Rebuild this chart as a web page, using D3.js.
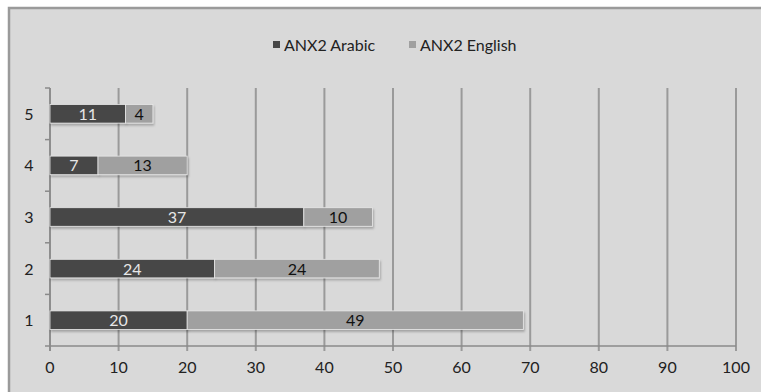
<!DOCTYPE html>
<html>
<head>
<meta charset="utf-8">
<script src="https://cdn.jsdelivr.net/npm/d3@7"></script>
<style>
  html, body { margin: 0; padding: 0; background: #fff; }
  svg { display: block; }
  text { font-family: Lato, "Open Sans", sans-serif; }
</style>
</head>
<body>
<svg id="chart" width="761" height="392"></svg>
<script>
// Stacked horizontal bars: two series per category
const categories = ["1", "2", "3", "4", "5"];
const arabic = [20, 24, 37, 7, 11];
const english = [49, 24, 10, 13, 4];
const seriesNames = ["ANX2 Arabic", "ANX2 English"];
const seriesColors = ["#474747", "#a0a0a0"];
const labelColors = ["#e6e6e6", "#111"];
const xTicks = [0, 10, 20, 30, 40, 50, 60, 70, 80, 90, 100];

const svg = d3.select("#chart");
const W = 761, H = 392;

// Chart frame
svg.append("rect").attr("x", 9).attr("y", 8).attr("width", W + 10).attr("height", H + 10)
  .attr("fill", "#d9d9d9").attr("stroke", "#9a9a9a").attr("stroke-width", 2.5);

const defs = svg.append("defs");
const f = defs.append("filter").attr("id", "shadow").attr("x", "-5%").attr("y", "-30%")
  .attr("width", "115%").attr("height", "180%");
f.append("feDropShadow").attr("dx", 1).attr("dy", 2).attr("stdDeviation", 1.2)
  .attr("flood-color", "#000").attr("flood-opacity", 0.25);

const x = d3.scaleLinear().domain([0, 100]).range([50, 736]);
const y = d3.scaleBand().domain(categories.slice().reverse()).range([88, 346])
  .paddingInner(0.64).paddingOuter(0.32);

const plotTop = 88, plotBottom = 346;

// Vertical gridlines (with tick marks below the axis)
svg.append("g").selectAll("line").data(xTicks).join("line")
  .attr("x1", d => x(d)).attr("x2", d => x(d))
  .attr("y1", plotTop).attr("y2", plotBottom + 5)
  .attr("stroke", "#9a9a9a").attr("stroke-width", 2);

// Axis lines
svg.append("line").attr("x1", 45).attr("x2", x(100)).attr("y1", plotBottom).attr("y2", plotBottom)
  .attr("stroke", "#8a8a8a").attr("stroke-width", 1.5);
svg.append("line").attr("x1", x(0)).attr("x2", x(0)).attr("y1", plotTop).attr("y2", plotBottom + 5)
  .attr("stroke", "#8a8a8a").attr("stroke-width", 1.5);

// Category boundary ticks on the y axis
const step = y.step();
const boundaries = d3.range(0, categories.length).map(i => plotTop + i * step);
svg.append("g").selectAll("line").data(boundaries).join("line")
  .attr("x1", 45).attr("x2", x(0)).attr("y1", d => d).attr("y2", d => d)
  .attr("stroke", "#8a8a8a").attr("stroke-width", 1.5);

// X tick labels
svg.append("g").selectAll("text").data(xTicks).join("text")
  .attr("x", d => x(d)).attr("y", 373).attr("text-anchor", "middle")
  .attr("font-size", 16).attr("fill", "#222").text(d => d);

// Y category labels
svg.append("g").selectAll("text").data(categories).join("text")
  .attr("x", 29).attr("y", d => y(d) + y.bandwidth() / 2 + 6).attr("text-anchor", "middle")
  .attr("font-size", 16).attr("fill", "#222").text(d => d);

// Stacked data
const rows = categories.map((c, i) => ({ cat: c, a: arabic[i], e: english[i] }));
const stack = d3.stack().keys(["a", "e"])(rows);

const layers = svg.append("g").selectAll("g").data(stack).join("g");
layers.selectAll("rect").data(d => d).join("rect")
  .attr("x", d => x(d[0]))
  .attr("y", d => y(d.data.cat))
  .attr("width", d => x(d[1]) - x(d[0]))
  .attr("height", y.bandwidth())
  .attr("fill", (d, i, n) => seriesColors[d3.select(n[i].parentNode).datum().index])
  .attr("stroke", "#e8e8e8").attr("stroke-width", 0.8)
  .attr("filter", "url(#shadow)");

layers.selectAll("text").data(d => d).join("text")
  .attr("x", d => (x(d[0]) + x(d[1])) / 2)
  .attr("y", d => y(d.data.cat) + y.bandwidth() / 2 + 6)
  .attr("text-anchor", "middle").attr("font-size", 16)
  .attr("fill", (d, i, n) => labelColors[d3.select(n[i].parentNode).datum().index])
  .text(d => d[1] - d[0]);

// Legend
const legendItems = [{ name: seriesNames[0], x: 273 }, { name: seriesNames[1], x: 409 }];
const lg = svg.append("g").selectAll("g").data(legendItems).join("g")
  .attr("transform", d => `translate(${d.x},45)`);
lg.append("rect").attr("x", 0).attr("y", -4).attr("width", 7).attr("height", 7)
  .attr("fill", (d, i) => seriesColors[i]);
lg.append("text").attr("x", 11).attr("y", 6).attr("font-size", 16).attr("fill", "#222")
  .text(d => d.name);
</script>
</body>
</html>
